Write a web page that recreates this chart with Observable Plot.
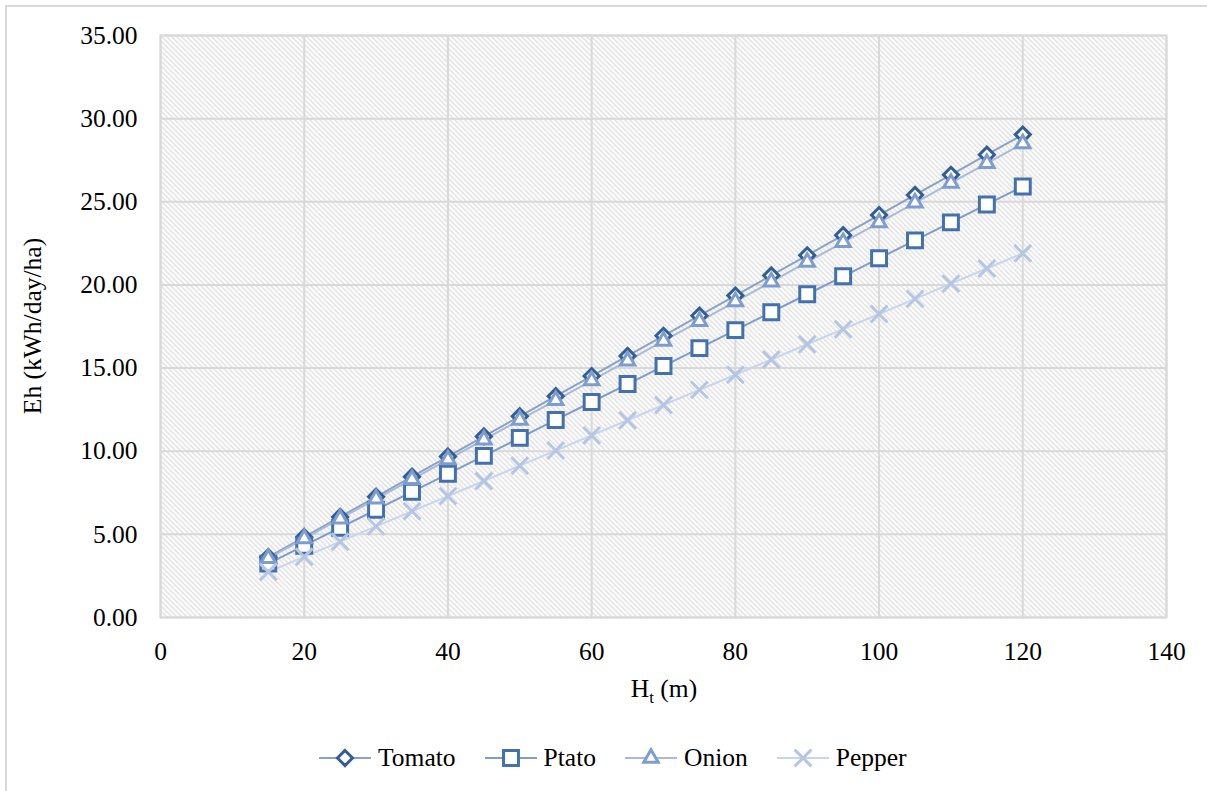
<!DOCTYPE html>
<html>
<head>
<meta charset="utf-8">
<script src="https://cdn.jsdelivr.net/npm/d3@7"></script>
<script src="https://cdn.jsdelivr.net/npm/@observablehq/plot@0.6"></script>
<style>
  html, body { margin: 0; padding: 0; background: #fff; }
  #wrap { position: relative; width: 1207px; height: 791px; overflow: hidden; font-family: "Liberation Serif", "DejaVu Serif", serif; }
  #border { position: absolute; left: 5px; top: 5px; width: 1300px; height: 784px; border-left: 2px solid #d9d9d9; border-top: 2px solid #d9d9d9; border-bottom: 2px solid #d9d9d9; }
  #chart { position: absolute; left: 0; top: 0; }
  #legend { position: absolute; left: 319px; top: 743px; height: 30px; display: flex; align-items: center; font-size: 25.5px; color: #000; }
  .item { display: flex; align-items: center; margin-right: 29px; }
  .item svg { display: block; }
  .item span { margin-left: 7px; line-height: 30px; }
</style>
</head>
<body>
<div id="wrap">
  <div id="border"></div>
  <div id="chart"></div>
  <div id="legend"></div>
</div>
<script>
// Head (m)
const heads = [15, 20, 25, 30, 35, 40, 45, 50, 55, 60, 65, 70, 75, 80, 85, 90, 95, 100, 105, 110, 115, 120];

// Hydraulic energy requirement Eh (kWh/day/ha) per crop
const tomato = [3.63, 4.84, 6.05, 7.26, 8.47, 9.68, 10.89, 12.10, 13.31, 14.52, 15.73, 16.94, 18.15, 19.36, 20.57, 21.78, 22.99, 24.20, 25.41, 26.62, 27.83, 29.04];
const potato = [3.24, 4.32, 5.40, 6.48, 7.56, 8.64, 9.72, 10.80, 11.88, 12.96, 14.04, 15.12, 16.20, 17.28, 18.36, 19.44, 20.52, 21.60, 22.68, 23.76, 24.84, 25.92];
const onion  = [3.56, 4.75, 5.94, 7.13, 8.31, 9.50, 10.69, 11.88, 13.06, 14.25, 15.44, 16.63, 17.81, 19.00, 20.19, 21.38, 22.56, 23.75, 24.94, 26.13, 27.31, 28.50];
const pepper = [2.74, 3.65, 4.56, 5.48, 6.39, 7.30, 8.21, 9.13, 10.04, 10.95, 11.86, 12.78, 13.69, 14.60, 15.51, 16.43, 17.34, 18.25, 19.16, 20.08, 20.99, 21.90];

const seriesNames = ["Tomato", "Ptato", "Onion", "Pepper"];
const xTicks = [0, 20, 40, 60, 80, 100, 120, 140];
const yTicks = [0, 5, 10, 15, 20, 25, 30, 35];

// Drawing style per series
const styles = {
  Tomato: {symbol: "diamond2", r: 6.8, stroke: "#335e95", line: "#8ca2c5", fill: "white"},
  Ptato:  {symbol: "square2",  r: 9.5, stroke: "#4271ad", line: "#7f9dca", fill: "white"},
  Onion:  {symbol: "triangle2", r: 6.9, stroke: "#7d9cd0", line: "#a7badd", fill: "white"},
  Pepper: {symbol: "times",    r: 7.7, stroke: "#b5c6e4", line: "#c9d5ec", fill: "none"}
};

const valuesBySeries = {Tomato: tomato, Ptato: potato, Onion: onion, Pepper: pepper};
const rows = seriesNames.map(name => heads.map((h, i) => ({series: name, h, eh: valuesBySeries[name][i]})));

const marks = [
  Plot.frame({fill: "url(#hatch)"}),
  Plot.gridX(xTicks, {stroke: "#d9d9d9", strokeOpacity: 1, strokeWidth: 2}),
  Plot.gridY(yTicks, {stroke: "#d9d9d9", strokeOpacity: 1, strokeWidth: 2}),
  Plot.frame({stroke: "#d9d9d9", strokeWidth: 2}),
  Plot.axisX(xTicks, {tickSize: 0, tickPadding: 24, label: null}),
  Plot.axisY(yTicks, {tickSize: 0, tickPadding: 23, tickFormat: d => d.toFixed(2), label: null})
];
for (const data of rows) {
  const s = styles[data[0].series];
  marks.push(Plot.line(data, {x: "h", y: "eh", stroke: s.line, strokeWidth: 2}));
}
for (const data of rows) {
  const s = styles[data[0].series];
  marks.push(Plot.dot(data, {x: "h", y: "eh", symbol: () => s.symbol, r: s.r, stroke: s.stroke, fill: s.fill, strokeWidth: 3}));
}

const svg = Plot.plot({
  width: 1207,
  height: 705,
  marginLeft: 160,
  marginRight: 41,
  marginTop: 35,
  marginBottom: 88,
  x: {domain: [0, 140]},
  y: {domain: [0, 35]},
  symbol: {type: "identity"},
  style: {fontFamily: '"Liberation Serif", "DejaVu Serif", serif', fontSize: "25.5px", color: "#000", background: "transparent", overflow: "visible"},
  marks
});

// Diagonal hatch used as plot-area fill
const defs = d3.select(svg).insert("defs", ":first-child");
const pat = defs.append("pattern")
  .attr("id", "hatch")
  .attr("patternUnits", "userSpaceOnUse")
  .attr("width", 5).attr("height", 5);
pat.append("rect").attr("width", 5).attr("height", 5).attr("fill", "#ffffff");
pat.append("path")
  .attr("d", "M-1,-1L6,6M-1,4L1,6M4,-1L6,1")
  .attr("stroke", "#d4d4d4")
  .attr("stroke-width", 1.1);

// Axis titles
const xl = d3.select(svg).append("text")
  .attr("x", 664).attr("y", 697)
  .attr("text-anchor", "middle")
  .attr("fill", "#000");
xl.append("tspan").text("H");
xl.append("tspan").attr("font-size", "17px").attr("dy", 6).text("t");
xl.append("tspan").attr("dy", -6).text(" (m)");

d3.select(svg).append("text")
  .attr("transform", "translate(41,326) rotate(-90)")
  .attr("text-anchor", "middle")
  .attr("fill", "#000")
  .text("Eh (kWh/day/ha)");

document.getElementById("chart").appendChild(svg);

// Legend below the chart
const legend = d3.select("#legend");
for (const name of seriesNames) {
  const s = styles[name];
  const item = legend.append("div").attr("class", "item");
  const sv = item.append("svg").attr("width", 52).attr("height", 30);
  sv.append("line").attr("x1", 0).attr("x2", 52).attr("y1", 15).attr("y2", 15)
    .attr("stroke", s.line).attr("stroke-width", 2);
  const symType = {diamond2: d3.symbolDiamond2, square2: d3.symbolSquare2, triangle2: d3.symbolTriangle2, times: d3.symbolTimes}[s.symbol];
  sv.append("path")
    .attr("transform", "translate(26,15)")
    .attr("d", d3.symbol(symType, s.r * s.r * Math.PI)())
    .attr("fill", s.fill).attr("stroke", s.stroke).attr("stroke-width", 3);
  item.append("span").text(name);
}
</script>
</body>
</html>
